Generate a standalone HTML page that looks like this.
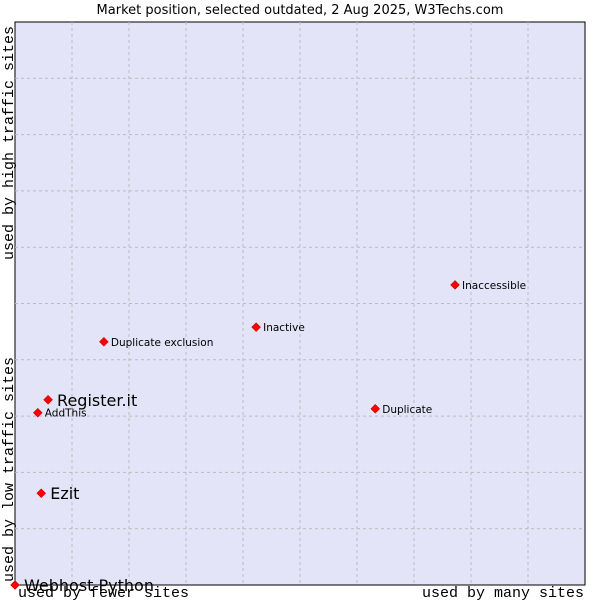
<!DOCTYPE html>
<html><head><meta charset="utf-8"><style>
body{margin:0;background:#fff;}
svg text{font-family:"DejaVu Sans","Liberation Sans",sans-serif;}
.mono{font-family:"Liberation Mono","DejaVu Sans Mono",monospace;font-size:15px;}
</style></head><body>
<svg id="chart" width="600" height="600">
<text x="300" y="14" text-anchor="middle" font-size="13" fill="#000">Market position, selected outdated, 2 Aug 2025, W3Techs.com</text>
<rect x="15" y="22" width="570" height="563" fill="#e4e4f8" stroke="#000" stroke-width="1"/>
<g id="grid"></g>
<g id="pts"></g>
<text class="mono" x="18" y="597">used by fewer sites</text>
<text class="mono" x="584" y="597" text-anchor="end">used by many sites</text>
<text class="mono" transform="translate(13,582) rotate(-90)">used by low traffic sites</text>
<text class="mono" transform="translate(13,260) rotate(-90)">used by high traffic sites</text>
</svg>
<script>
const names=["Webhost Python","Ezit","AddThis","Register.it","Duplicate exclusion","Inactive","Duplicate","Inaccessible"];
const xVals=[0,4.6,4.0,5.8,15.6,42.3,63.2,77.2];
const yVals=[0,16.3,30.6,32.9,43.2,45.8,31.3,53.3];
const bigLabel=[true,true,false,true,false,false,false,false];
const X0=15,X1=585,Y0=585,Y1=22;
const sx=v=>X0+v/100*(X1-X0);
const sy=v=>Y0-v/100*(Y0-Y1);
const NS="http://www.w3.org/2000/svg";
const grid=document.getElementById('grid');
for(let i=1;i<10;i++){
 const v=document.createElementNS(NS,'line');
 
 
 v.setAttribute('x1',sx(i*10));v.setAttribute('x2',sx(i*10));v.setAttribute('y1',Y1);v.setAttribute('y2',Y0);
 v.setAttribute('stroke','#bbb');v.setAttribute('stroke-dasharray','3,3');
 grid.appendChild(v);
 const h=document.createElementNS(NS,'line');
 
 
 h.setAttribute('y1',sy(i*10));h.setAttribute('y2',sy(i*10));h.setAttribute('x1',X0);h.setAttribute('x2',X1);
 h.setAttribute('stroke','#bbb');h.setAttribute('stroke-dasharray','3,3');
 grid.appendChild(h);
}
const pts=document.getElementById('pts');
names.forEach((n,i)=>{
 const cx=sx(xVals[i]),cy=sy(yVals[i]);
 const d=document.createElementNS(NS,'path');
 
 
 d.setAttribute('d',`M${cx-4.5} ${cy}L${cx} ${cy-4.5}L${cx+4.5} ${cy}L${cx} ${cy+4.5}Z`);
 d.setAttribute('fill','#f00');d.setAttribute('stroke','#a00');d.setAttribute('stroke-width','0.5');
 pts.appendChild(d);
 const t=document.createElementNS(NS,'text');
 
 
 t.setAttribute('x',cx+(bigLabel[i]?9:7));
 t.setAttribute('y',cy+(bigLabel[i]?6:4));
 t.setAttribute('font-size',bigLabel[i]?'16':'10.5');
 t.textContent=n;
 pts.appendChild(t);
});
</script>
</body></html>
